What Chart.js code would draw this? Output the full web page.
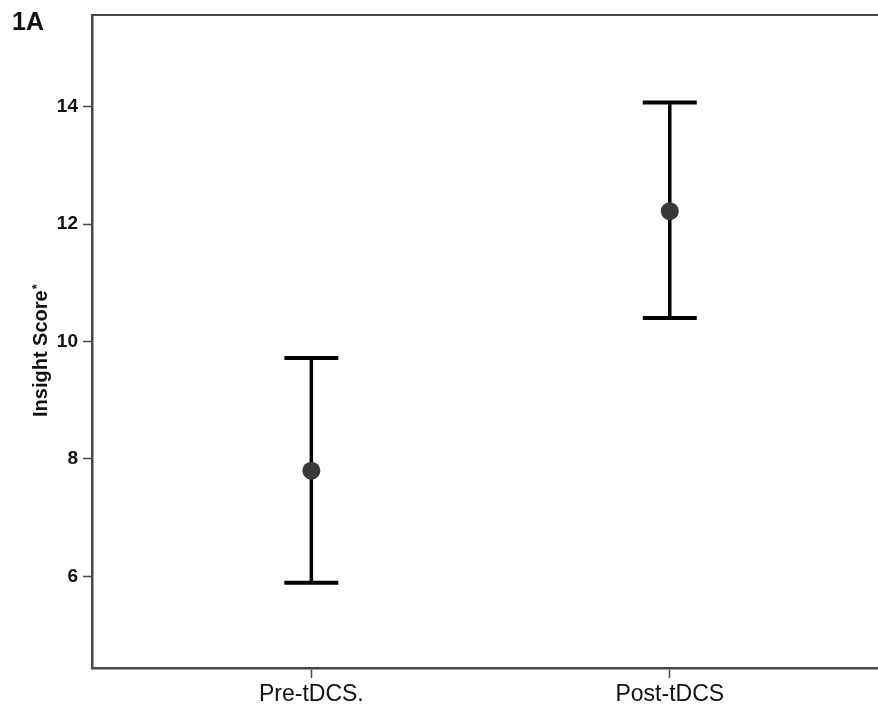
<!DOCTYPE html>
<html>
<head>
<meta charset="utf-8">
<script src="https://cdn.jsdelivr.net/npm/chart.js@4/dist/chart.umd.min.js"></script>
<style>
  html, body { margin: 0; padding: 0; background: #fff; overflow: hidden; }
  canvas { display: block; }
</style>
</head>
<body>
<canvas id="chart" width="878" height="708"></canvas>
<script>
// Insight score before and after tDCS: mean with error bar limits
const categories = ['Pre-tDCS.', 'Post-tDCS'];
const means = [7.80, 12.22];
const upper = [9.72, 14.07];
const lower = [5.89, 10.40];
const yTicks = [6, 8, 10, 12, 14];
const yTitle = 'Insight Score';

const FONT = "'Liberation Sans', Arial, sans-serif";
const AXIS = '#474747';

function noPadding(s) {
  s.paddingLeft = 0; s.paddingRight = 0; s.paddingTop = 0; s.paddingBottom = 0;
}

// Vertical whiskers with end caps, the open top frame line, axis title and panel tag
const errorBars = {
  id: 'errorBars',
  beforeDatasetsDraw(chart) {
    const { ctx, scales: { x, y } } = chart;
    ctx.save();
    ctx.strokeStyle = '#000';
    categories.forEach((_, i) => {
      const px = x.getPixelForValue(i);
      const yt = y.getPixelForValue(upper[i]);
      const yb = y.getPixelForValue(lower[i]);
      ctx.lineWidth = 3.5;
      ctx.beginPath();
      ctx.moveTo(px, yt);
      ctx.lineTo(px, yb);
      ctx.stroke();
      ctx.lineWidth = 4;
      ctx.beginPath();
      ctx.moveTo(px - 27, yt);
      ctx.lineTo(px + 27, yt);
      ctx.moveTo(px - 27, yb);
      ctx.lineTo(px + 27, yb);
      ctx.stroke();
    });
    ctx.restore();
  },
  afterDraw(chart) {
    const { ctx, chartArea } = chart;
    ctx.save();
    ctx.strokeStyle = AXIS;
    ctx.lineWidth = 2;
    ctx.beginPath();
    ctx.moveTo(chartArea.left - 1, chartArea.top);
    ctx.lineTo(chartArea.right, chartArea.top);
    ctx.stroke();

    ctx.fillStyle = '#111';
    ctx.font = "bold 25px " + FONT;
    ctx.textBaseline = 'alphabetic';
    ctx.textAlign = 'left';
    ctx.fillText('1A', 12, 30);

    // rotated y-axis title with a raised asterisk
    ctx.save();
    ctx.translate(47, 417);
    ctx.rotate(-Math.PI / 2);
    ctx.font = "bold 20px " + FONT;
    ctx.fillText(yTitle, 0, 0);
    const w = ctx.measureText(yTitle).width;
    ctx.font = "bold 13px " + FONT;
    ctx.fillText('*', w + 1, -6);
    ctx.restore();
    ctx.restore();
  }
};

new Chart(document.getElementById('chart'), {
  type: 'scatter',
  data: {
    datasets: [{
      data: means.map((m, i) => ({ x: i, y: m })),
      pointRadius: 9,
      pointHoverRadius: 9,
      pointBackgroundColor: '#383838',
      pointBorderColor: '#383838',
      pointBorderWidth: 0,
      showLine: false
    }]
  },
  options: {
    responsive: false,
    devicePixelRatio: 1,
    animation: false,
    layout: { autoPadding: false, padding: { top: 15, left: 0, right: 0, bottom: 0 } },
    plugins: { legend: { display: false }, tooltip: { enabled: false } },
    scales: {
      x: {
        type: 'linear',
        min: -0.612,
        max: 1.581,
        afterFit(s) { s.height = 40; noPadding(s); },
        afterBuildTicks(s) { s.ticks = categories.map((_, i) => ({ value: i })); },
        border: { color: AXIS, width: 2.5 },
        grid: { drawOnChartArea: false, drawTicks: true, tickLength: 10, tickColor: AXIS, tickWidth: 1.5 },
        ticks: {
          padding: 3,
          color: '#111',
          font: { family: FONT, size: 23 },
          maxRotation: 0,
          callback: (v) => categories[v]
        }
      },
      y: {
        min: 4.44,
        max: 15.56,
        afterFit(s) { s.width = 92; noPadding(s); },
        afterBuildTicks(s) { s.ticks = yTicks.map(v => ({ value: v })); },
        border: { color: AXIS, width: 2.5 },
        grid: { drawOnChartArea: false, drawTicks: true, tickLength: 9, tickColor: AXIS, tickWidth: 1.5 },
        ticks: {
          padding: 5,
          color: '#111',
          font: { family: FONT, size: 19, weight: 'bold' }
        },
        title: { display: false }
      }
    }
  },
  plugins: [errorBars]
});
</script>
</body>
</html>
